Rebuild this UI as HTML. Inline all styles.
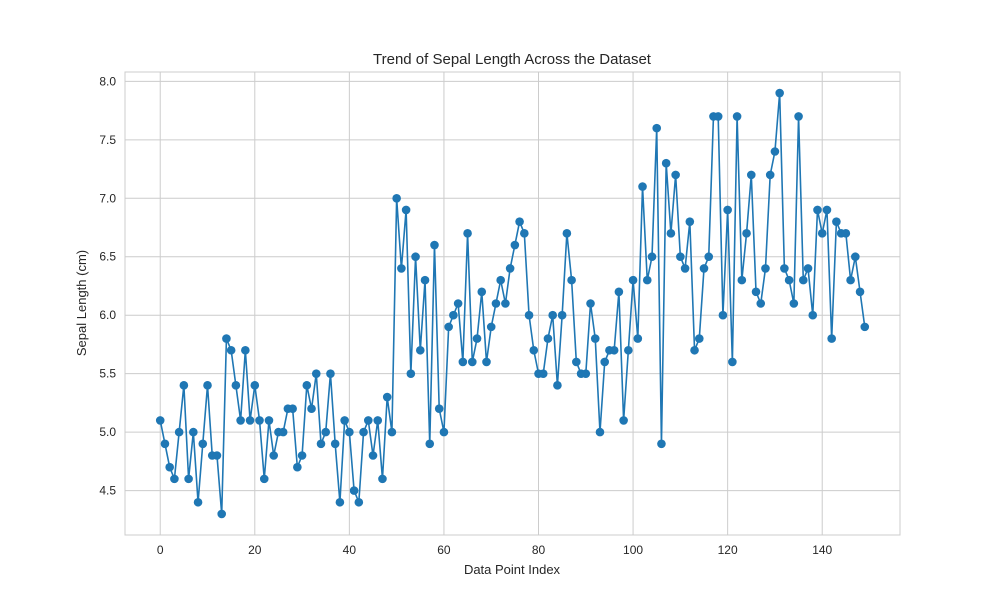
<!DOCTYPE html>
<html><head><meta charset="utf-8"><style>
body{margin:0;background:#fff;font-family:"Liberation Sans","DejaVu Sans",sans-serif;}
svg text{fill:#262626;}
</style></head><body>
<svg id="chart" width="1000" height="600" xmlns="http://www.w3.org/2000/svg">
<rect width="1000" height="600" fill="#fff"/>
<g id="grid"></g>
<rect x="125" y="72" width="775" height="463" fill="none" stroke="#cccccc" stroke-width="1"/>
<g id="ticks"></g>
<g id="series"></g>
<text x="512" y="64" text-anchor="middle" font-size="15">Trend of Sepal Length Across the Dataset</text>
<text x="512" y="574" text-anchor="middle" font-size="13">Data Point Index</text>
<text transform="translate(86,303) rotate(-90)" text-anchor="middle" font-size="13">Sepal Length (cm)</text>
</svg>
<script>
const sepalLength=[5.1,4.9,4.7,4.6,5.0,5.4,4.6,5.0,4.4,4.9,5.4,4.8,4.8,4.3,5.8,5.7,5.4,5.1,5.7,5.1,5.4,5.1,4.6,5.1,4.8,5.0,5.0,5.2,5.2,4.7,4.8,5.4,5.2,5.5,4.9,5.0,5.5,4.9,4.4,5.1,5.0,4.5,4.4,5.0,5.1,4.8,5.1,4.6,5.3,5.0,
7.0,6.4,6.9,5.5,6.5,5.7,6.3,4.9,6.6,5.2,5.0,5.9,6.0,6.1,5.6,6.7,5.6,5.8,6.2,5.6,5.9,6.1,6.3,6.1,6.4,6.6,6.8,6.7,6.0,5.7,5.5,5.5,5.8,6.0,5.4,6.0,6.7,6.3,5.6,5.5,5.5,6.1,5.8,5.0,5.6,5.7,5.7,6.2,5.1,5.7,
6.3,5.8,7.1,6.3,6.5,7.6,4.9,7.3,6.7,7.2,6.5,6.4,6.8,5.7,5.8,6.4,6.5,7.7,7.7,6.0,6.9,5.6,7.7,6.3,6.7,7.2,6.2,6.1,6.4,7.2,7.4,7.9,6.4,6.3,6.1,7.7,6.3,6.4,6.0,6.9,6.7,6.9,5.8,6.8,6.7,6.7,6.3,6.5,6.2,5.9];
const xTicks=[0,20,40,60,80,100,120,140];
const yTicks=[4.5,5.0,5.5,6.0,6.5,7.0,7.5,8.0];
const L=125,R=900,T=72,B=535;
const n=sepalLength.length;
const xMin=-(n-1)*0.05,xMax=(n-1)*1.05;
const yLo=Math.min(...sepalLength),yHi=Math.max(...sepalLength),yPad=(yHi-yLo)*0.05;
const yMin=yLo-yPad,yMax=yHi+yPad;
const sx=v=>L+(v-xMin)/(xMax-xMin)*(R-L);
const sy=v=>B-(v-yMin)/(yMax-yMin)*(B-T);
const NS="http://www.w3.org/2000/svg";
const mk=(t,a,p)=>{const e=document.createElementNS(NS,t);for(const k in a)e.setAttribute(k,a[k]);p.appendChild(e);return e;};
const grid=document.getElementById('grid'),ticks=document.getElementById('ticks'),series=document.getElementById('series');
xTicks.forEach(t=>{
 const l=mk('line',{x1:sx(t),x2:sx(t),y1:T,y2:B,stroke:'#cccccc','stroke-width':1},grid);
 
 
 const tx=mk('text',{x:sx(t),y:B+19,'text-anchor':'middle','font-size':12},ticks);
 tx.textContent=t;
 
 
});
yTicks.forEach(t=>{
 const l=mk('line',{x1:L,x2:R,y1:sy(t),y2:sy(t),stroke:'#cccccc','stroke-width':1},grid);
 
 
 const tx=mk('text',{x:L-9,y:sy(t)+4,'text-anchor':'end','font-size':12},ticks);
 tx.textContent=t.toFixed(1);
 
 
});
const pts=sepalLength.map((v,i)=>sx(i).toFixed(2)+','+sy(v).toFixed(2)).join(' ');
const line=mk('polyline',{points:pts,fill:'none',stroke:'#1f77b4','stroke-width':1.6,'stroke-linejoin':'round'},series);


sepalLength.forEach((v,i)=>{
 const c=mk('circle',{cx:sx(i),cy:sy(v),r:4.3,fill:'#1f77b4'},series);
 
 
});
</script>
</body></html>
